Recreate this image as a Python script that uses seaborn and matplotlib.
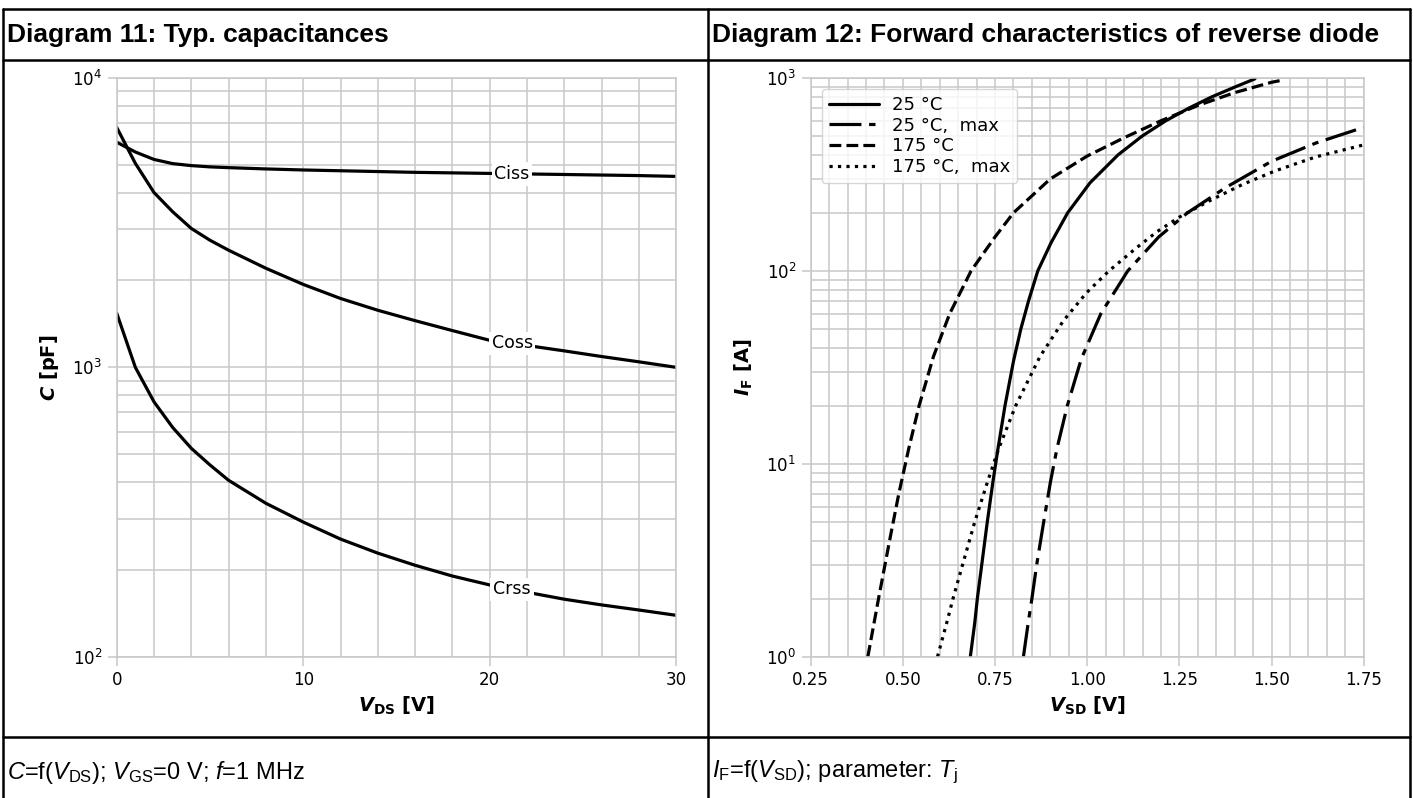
import numpy as np
import pandas as pd
import matplotlib
matplotlib.use("Agg")
import matplotlib.pyplot as plt
from matplotlib import font_manager
from matplotlib.lines import Line2D
from matplotlib.ticker import MultipleLocator, LogLocator, NullFormatter
import seaborn as sns

# Diagram 11: typ. capacitances, C = f(V_DS)
vds = [0, 1, 2, 3, 4, 5, 6, 8, 10, 12, 14, 16, 18, 20, 22, 24, 26, 28, 30]
ciss = [6000, 5550, 5230, 5060, 4980, 4930, 4900, 4850, 4810, 4780, 4750,
        4720, 4700, 4680, 4660, 4640, 4620, 4600, 4570]
coss = [6750, 5070, 4020, 3450, 3020, 2750, 2540, 2200, 1935, 1730, 1575,
        1450, 1340, 1240, 1190, 1140, 1090, 1045, 1000]
crss = [1540, 1000, 760, 620, 525, 460, 407, 339, 292, 255, 228,
        207, 190, 177, 167, 158, 151, 145, 139]
cap_names = ["Ciss", "Coss", "Crss"]

# Diagram 12: forward characteristics of reverse diode, I_F = f(V_SD)
vsd_25 = [0.683, 0.695, 0.702, 0.714, 0.729, 0.744, 0.758, 0.777, 0.80, 0.82,
          0.841, 0.866, 0.902, 0.947, 1.0075, 1.084, 1.149, 1.213, 1.277,
          1.339, 1.402, 1.455]
if_25 = [1, 1.5, 2, 3, 5, 8, 12, 20, 34, 50,
         70, 100, 140, 200, 286, 400, 500, 600, 700,
         800, 900, 990]
vsd_25max = [0.827, 0.840, 0.850, 0.863, 0.882, 0.900, 0.918, 0.946, 0.984,
             1.037, 1.11, 1.194, 1.272, 1.375, 1.50, 1.62, 1.75]
if_25max = [1, 1.5, 2, 3, 5, 8, 12, 20, 35,
            60, 100, 150, 200, 270, 370, 460, 555]
vsd_175 = [0.405, 0.434, 0.464, 0.489, 0.516, 0.544, 0.583, 0.627, 0.685,
           0.75, 0.80, 0.90, 1.0, 1.1, 1.2, 1.3, 1.4, 1.5, 1.53]
if_175 = [1, 2, 4, 7, 12, 20, 36, 60, 100,
          150, 200, 300, 394, 490, 600, 720, 840, 950, 975]
vsd_175max = [0.594, 0.619, 0.636, 0.662, 0.695, 0.729, 0.760, 0.806, 0.872,
              0.935, 0.998, 1.059, 1.13, 1.19, 1.25, 1.33, 1.42, 1.51, 1.62, 1.75]
if_175max = [1, 1.5, 2, 3, 5, 8, 12, 20, 36,
             55, 77, 100, 130, 160, 190, 230, 280, 330, 390, 450]
diode_labels = ["25 °C", "25 °C,  max", "175 °C", "175 °C,  max"]

sns.set_theme(style="whitegrid", rc={"xtick.bottom": True, "ytick.left": True,
                                     "text.color": "black",
                                     "axes.labelcolor": "black"})
names = {f.name for f in font_manager.fontManager.ttflist}
narrow = "Liberation Sans Narrow" if "Liberation Sans Narrow" in names else "Liberation Sans"
plt.rcParams["font.family"] = ["DejaVu Sans"]
plt.rcParams["mathtext.rm"] = narrow
plt.rcParams["mathtext.it"] = narrow + ":italic"
plt.rcParams["mathtext.bf"] = narrow + ":bold"

W, H = 1413, 798
fig = plt.figure(figsize=(W / 100, H / 100), dpi=100)

def fx(x):
    return x / W

def fy(y):
    return 1 - y / H

ax1 = fig.add_axes([fx(116.7), fy(656.7), fx(676.2) - fx(116.7), fy(78) - fy(656.7)])
ax2 = fig.add_axes([fx(810.7), fy(656.7), fx(1363.7) - fx(810.7), fy(78) - fy(656.7)])

# left chart
cap_df = pd.DataFrame({
    "V_DS": vds * 3,
    "C": ciss + coss + crss,
    "cap": [n for n in cap_names for _ in vds],
})
sns.lineplot(data=cap_df, x="V_DS", y="C", hue="cap",
             palette={n: "black" for n in cap_names}, lw=2.3,
             legend=False, ax=ax1)
ax1.set_yscale("log")
ax1.set_xlim(0, 30)
ax1.set_ylim(100, 1e4)
ax1.xaxis.set_major_locator(MultipleLocator(10))
ax1.xaxis.set_minor_locator(MultipleLocator(2))
for name, vals in zip(cap_names, [ciss, coss, crss]):
    y = 10 ** np.interp(21.2, vds, np.log10(vals))
    ax1.text(21.2, y, name, ha="center", va="center", fontsize=12.5,
             bbox=dict(fc="white", ec="none", pad=2))
ax1.set_xlabel(r"$\mathbfit{V}_{\mathbf{DS}}$ [V]", fontsize=14, fontweight="bold")
ax1.set_ylabel(r"$\mathbfit{C}$ [pF]", fontsize=14, fontweight="bold", labelpad=8)

# right chart
diode_df = pd.concat([
    pd.DataFrame({"V_SD": v, "I_F": i, "series": lab})
    for v, i, lab in zip([vsd_25, vsd_25max, vsd_175, vsd_175max],
                         [if_25, if_25max, if_175, if_175max], diode_labels)
])
sns.lineplot(data=diode_df, x="V_SD", y="I_F", style="series",
             style_order=diode_labels, color="black", lw=2.3,
             dashes={diode_labels[0]: "", diode_labels[1]: (10, 2.4, 2, 2.4),
                     diode_labels[2]: (3.7, 1.6), diode_labels[3]: (1, 1.65)},
             estimator=None, sort=False, ax=ax2)
ax2.set_yscale("log")
ax2.set_xlim(0.25, 1.75)
ax2.set_ylim(1, 1000)
ax2.xaxis.set_major_locator(MultipleLocator(0.25))
ax2.xaxis.set_minor_locator(MultipleLocator(0.05))
ax2.set_xlabel(r"$\mathbfit{V}_{\mathbf{SD}}$ [V]", fontsize=14, fontweight="bold")
ax2.set_ylabel(r"$\mathbfit{I}_{\mathbf{F}}$ [A]", fontsize=14, fontweight="bold", labelpad=8)
handles, labels = ax2.get_legend_handles_labels()
ax2.legend(handles, labels, loc="upper left", fontsize=13, handlelength=2.8,
           handletextpad=0.7, labelspacing=0.15, borderaxespad=0.6,
           edgecolor=".8", framealpha=0.8)

for ax in (ax1, ax2):
    ax.yaxis.set_major_locator(LogLocator(base=10))
    ax.yaxis.set_minor_locator(LogLocator(base=10, subs=np.arange(2, 10)))
    ax.yaxis.set_minor_formatter(NullFormatter())
    ax.grid(which="both", color="#c8c8c8", lw=1.1)
    ax.tick_params(which="major", length=6.5, width=1.1, color="#c8c8c8",
                   labelcolor="black", labelsize=12, pad=4)
    ax.tick_params(which="minor", length=0)
    for s in ax.spines.values():
        s.set_color("#c8c8c8")
        s.set_linewidth(1.1)

# table frame
frame = dict(color="black", lw=1.8, transform=fig.transFigure, clip_on=False)
for x0, y0, x1, y1 in [(3, 9, 1410, 9), (3, 60, 1410, 60), (3, 737, 1410, 737),
                       (3, 9, 3, 798), (708, 9, 708, 798), (1410, 9, 1410, 798)]:
    fig.add_artist(Line2D([fx(x0), fx(x1)], [fy(y0), fy(y1)], **frame))

title_kw = dict(fontsize=19, fontweight="bold", family=[narrow, "DejaVu Sans"],
                va="center", ha="left", color="black")
fig.text(fx(7), fy(35), "Diagram 11: Typ. capacitances", **title_kw)
fig.text(fx(712), fy(35), "Diagram 12: Forward characteristics of reverse diode", **title_kw)
foot_kw = dict(fontsize=17, family=[narrow, "DejaVu Sans"], va="center",
               ha="left", math_fontfamily="custom", color="black")
fig.text(fx(7), fy(772), r"$\mathit{C}$=f($\mathit{V}_{\mathrm{DS}}$); "
         r"$\mathit{V}_{\mathrm{GS}}$=0 V; $\mathit{f}$=1 MHz", **foot_kw)
fig.text(fx(712), fy(772), r"$\mathit{I}_{\mathrm{F}}$=f($\mathit{V}_{\mathrm{SD}}$); "
         r"parameter: $\mathit{T}_{\mathrm{j}}$", **foot_kw)

fig.savefig("out.png", dpi=100)
